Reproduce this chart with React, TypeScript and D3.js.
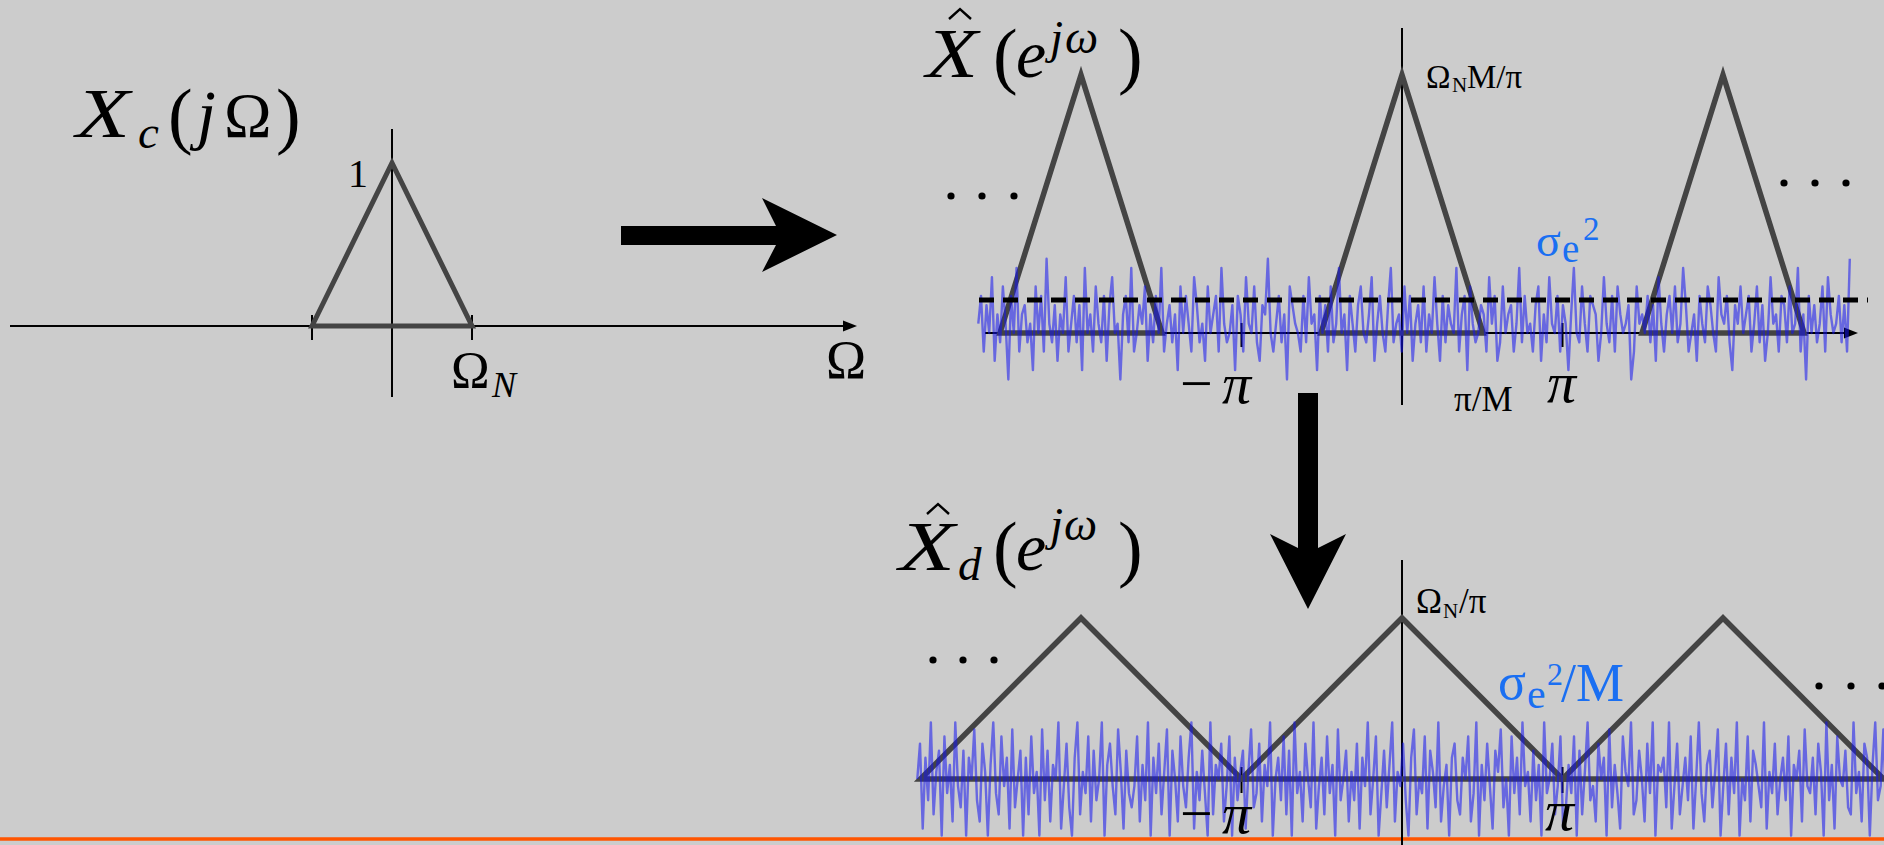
import React from 'react';
import * as d3 from 'd3';

const W = 1884;
const H = 845;

// Continuous-time spectrum X_c(jΩ): vertices as (Ω/Ω_N, magnitude)
const ctTriangle: [number, number][] = [[-1, 0], [0, 1], [1, 0]];
const ctTicks = [-1, 1];

// Discrete-time spectra: replica centres in units of π, half-widths in units of π
const topCenters = [-2, 0, 2];
const topHalfWidth = 0.505;
const bottomCenters = [-2, 0, 2];
const bottomHalfWidth = 1;
const piTicks = [-1, 1];

// Quantisation noise floor σe² (fraction of the top peak)
const noiseFloorTop = 0.128;

// Noise samples, one letter per sample: 'M' is zero, each letter step is one unit
const topNoiseCodes =
  'NQKPMSJOLRNHQMTKOPLNIRMQKUNLPJOMSKNQLPIT' +
  'MOKRNLQJPSMNHOQLTKMPNRJOLQMTKNPLOIRMQNKS' +
  'PLNJRMOQKTNLMPIQOKSNMRLJPOUMKNQLOHRPNMKQ' +
  'LSNOIQMPKRLNTMOIQNKPRMLOSJNQMKPTLNOKRMQJ' +
  'NPLRKOMSNJQLPNMTKOQIRNLMPOKSNQJLRMOPKNTL' +
  'QMNKPRJOLSNMQKPNIOTMLRNKQPOJMSNLQKROMNPH' +
  'KRNOMQLPJSNKOQMRLNTPKMOJQNLRPMKSONQLIPNR' +
  'MOQKNRLPJMSNOKQPLRMNTKOHQMPLNRKSOMNQLPKU';
const topNoiseUnit = 0.036;
const topNoiseSpan: [number, number] = [-2.64, 2.79];

const bottomNoiseCodes =
  'MRFPJUHNQESKOGULIQEPMTJGRNEOUKHSLPFTIMQE' +
  'PHSKNETJQGOMUFLRIEPUHNKSGQJMUEORLHTNFQKI' +
  'LSGOJUEPKRHNTEQMGSLIPUFNJQKEUHOMRGLSEPJN' +
  'QFNTIKRGOLUEMPJSHQEUKNGRMIUFLPHSKOETJMQG' +
  'NJRFPLUHMSEKQIOUGNLRJEPTHMKSFQNIUGLOEPRJ' +
  'HPMSGKUEOJRLFQNTIMESKPHULNGQJOEUKMRHLSFI' +
  'OKSEQHNUJLGRMPETIOKFSNLUHJQMGRKUEONPIUFL' +
  'RHLPJSFMUKGOQINTELRHPKUEMJSGQOLIUFNKRHMP' +
  'JSEOMQGTLKPHRNEUJOFSMLQIHUKNGRPEOUJLTHMQ';
const bottomNoiseUnit = 0.044;
const bottomNoiseSpan: [number, number] = [-3.02, 3.05];

const BG = '#cccccc';
const TRI = '#444444';
const BLUE_TEXT = '#1a6ff2';
const NOISE = '#1414f0';
const ORANGE = '#ff5500';
const SERIF = '"Liberation Serif", "Times New Roman", serif';

// Scales
const xL = d3.scaleLinear().domain([-1, 1]).range([312, 472]);
const yL = d3.scaleLinear().domain([0, 1]).range([326, 163]);
const xW = d3.scaleLinear().domain([0, 1]).range([1402, 1562.5]);
const yT = d3.scaleLinear().domain([0, 1]).range([333, 75]);
const yB = d3.scaleLinear().domain([0, 1]).range([779, 618]);

type P = [number, number];

function triangle(c: number, hw: number): P[] {
  return [[c - hw, 0], [c, 1], [c + hw, 0]];
}

function decodeNoise(codes: string, unit: number): number[] {
  return Array.from(codes).map(ch => (ch.charCodeAt(0) - 77) * unit);
}

function noisePoints(values: number[], span: [number, number]): P[] {
  const xi = d3.scaleLinear().domain([0, values.length - 1]).range(span);
  return values.map((v, i) => [xi(i), v] as P);
}

const T = (props: any) => <text fontFamily={SERIF} fill="#000" {...props} />;

function Hat({ cx, y }: { cx: number; y: number }) {
  return (
    <path
      d={`M${cx - 11},${y + 10} L${cx},${y} L${cx + 11},${y + 10}`}
      fill="none"
      stroke="#000"
      strokeWidth={2.4}
    />
  );
}

function Dots({ xs, y }: { xs: number[]; y: number }) {
  return (
    <g>
      {xs.map((x, i) => (
        <circle key={i} cx={x} cy={y} r={3.6} fill="#000" />
      ))}
    </g>
  );
}

function ArrowHead({ x, y }: { x: number; y: number }) {
  return <path d={`M${x},${y} L${x - 14},${y - 5.5} L${x - 14},${y + 5.5} Z`} fill="#000" />;
}

export default function App() {
  const lineL = d3.line<P>().x(d => xL(d[0])).y(d => yL(d[1]));
  const lineT = d3.line<P>().x(d => xW(d[0])).y(d => yT(d[1]));
  const lineB = d3.line<P>().x(d => xW(d[0])).y(d => yB(d[1]));

  const topNoise = decodeNoise(topNoiseCodes, topNoiseUnit);
  const bottomNoise = decodeNoise(bottomNoiseCodes, bottomNoiseUnit);
  const topNoisePath = lineT(noisePoints(topNoise, topNoiseSpan)) || '';
  const bottomNoisePath = lineB(noisePoints(bottomNoise, bottomNoiseSpan)) || '';

  return (
    <svg
      width={W}
      height={H}
      viewBox={`0 0 ${W} ${H}`}
      style={{ position: 'absolute', left: 0, top: 0, display: 'block' }}
    >
      <rect x={0} y={0} width={W} height={H} fill={BG} />

      {/* slide footer rule */}
      <line x1={0} x2={W} y1={839} y2={839} stroke={ORANGE} strokeWidth={3.5} />

      {/* ---------- X_c(jΩ) ---------- */}
      <line x1={10} x2={845} y1={yL(0)} y2={yL(0)} stroke="#000" strokeWidth={2.2} />
      <ArrowHead x={857} y={yL(0)} />
      <line x1={xL(0)} x2={xL(0)} y1={129} y2={397} stroke="#000" strokeWidth={2} />
      {ctTicks.map(t => (
        <line key={t} x1={xL(t)} x2={xL(t)} y1={315} y2={340} stroke="#000" strokeWidth={2} />
      ))}
      <path d={lineL(ctTriangle) + 'Z'} fill="none" stroke={TRI} strokeWidth={5} strokeLinejoin="miter" />

      <T x={76} y={137} fontSize={70} fontStyle="italic" textLength={54} lengthAdjust="spacingAndGlyphs">X</T>
      <T x={138} y={148} fontSize={47} fontStyle="italic">c</T>
      <T x={168} y={140} fontSize={74}>(</T>
      <T x={197} y={137} fontSize={68} fontStyle="italic">j</T>
      <T x={224} y={137} fontSize={64}>Ω</T>
      <T x={276} y={140} fontSize={74}>)</T>
      <T x={348} y={187} fontSize={40}>1</T>
      <T x={451} y={388} fontSize={52}>Ω</T>
      <T x={492} y={397} fontSize={36} fontStyle="italic">N</T>
      <T x={826} y={378} fontSize={54}>Ω</T>

      {/* ---------- transition arrows ---------- */}
      <path d="M621,226 L776,226 L762,198 L837,235 L762,272 L776,245 L621,245 Z" fill="#000" />
      <path d="M1298,393 L1318,393 L1318,548 L1346,534 L1308,609 L1270,534 L1298,548 Z" fill="#000" />

      {/* ---------- upsampled spectrum ---------- */}
      <line x1={985} x2={1846} y1={yT(0)} y2={yT(0)} stroke="#000" strokeWidth={2} />
      <ArrowHead x={1858} y={yT(0)} />
      <line x1={xW(0)} x2={xW(0)} y1={28} y2={405} stroke="#000" strokeWidth={2} />
      {piTicks.map(t => (
        <line key={t} x1={xW(t)} x2={xW(t)} y1={323} y2={347} stroke="#000" strokeWidth={2} />
      ))}
      {topCenters.map(c => (
        <path key={c} d={lineT(triangle(c, topHalfWidth)) + 'Z'} fill="none" stroke={TRI} strokeWidth={5.5} />
      ))}
      <path d={topNoisePath} fill="none" stroke={NOISE} strokeOpacity={0.55} strokeWidth={2.4} strokeLinejoin="round" />
      <line
        x1={979}
        x2={1868}
        y1={yT(noiseFloorTop)}
        y2={yT(noiseFloorTop)}
        stroke="#000"
        strokeWidth={5}
        strokeDasharray="15 9"
      />

      <Hat cx={960} y={9} />
      <T x={926} y={77} fontSize={70} fontStyle="italic" textLength={52} lengthAdjust="spacingAndGlyphs">X</T>
      <T x={993} y={80} fontSize={74}>(</T>
      <T x={1016} y={77} fontSize={68} fontStyle="italic">e</T>
      <T x={1050} y={53} fontSize={47} fontStyle="italic">j</T>
      <T x={1065} y={53} fontSize={47} fontStyle="italic">ω</T>
      <T x={1118} y={80} fontSize={74}>)</T>
      <Dots xs={[951, 982, 1014]} y={196} />
      <Dots xs={[1784, 1815, 1846]} y={183} />

      <T x={1426} y={88} fontSize={33}>Ω</T>
      <T x={1452} y={92} fontSize={21}>N</T>
      <T x={1467} y={88} fontSize={33}>M/π</T>
      <T x={1536} y={256} fontSize={46} fill={BLUE_TEXT}>σ</T>
      <T x={1562} y={262} fontSize={39} fill={BLUE_TEXT}>e</T>
      <T x={1583} y={240} fontSize={33} fill={BLUE_TEXT}>2</T>
      <T x={1180} y={403} fontSize={58}>−</T>
      <T x={1222} y={403} fontSize={58} fontStyle="italic">π</T>
      <T x={1454} y={411} fontSize={35}>π/M</T>
      <T x={1547} y={402} fontSize={58} fontStyle="italic">π</T>

      {/* ---------- decimated spectrum ---------- */}
      <line x1={925} x2={W} y1={yB(0)} y2={yB(0)} stroke="#000" strokeWidth={2} />
      <line x1={xW(0)} x2={xW(0)} y1={560} y2={H} stroke="#000" strokeWidth={2} />
      {piTicks.map(t => (
        <line key={t} x1={xW(t)} x2={xW(t)} y1={767} y2={793} stroke="#000" strokeWidth={2} />
      ))}
      {bottomCenters.map(c => (
        <path key={c} d={lineB(triangle(c, bottomHalfWidth)) + 'Z'} fill="none" stroke={TRI} strokeWidth={5.5} />
      ))}
      <path d={bottomNoisePath} fill="none" stroke={NOISE} strokeOpacity={0.55} strokeWidth={2.4} strokeLinejoin="round" />

      <Hat cx={938} y={504} />
      <T x={899} y={570} fontSize={70} fontStyle="italic" textLength={56} lengthAdjust="spacingAndGlyphs">X</T>
      <T x={958} y={580} fontSize={47} fontStyle="italic">d</T>
      <T x={993} y={573} fontSize={74}>(</T>
      <T x={1016} y={570} fontSize={68} fontStyle="italic">e</T>
      <T x={1050} y={540} fontSize={47} fontStyle="italic">j</T>
      <T x={1064} y={540} fontSize={47} fontStyle="italic">ω</T>
      <T x={1118} y={573} fontSize={74}>)</T>
      <Dots xs={[933, 963, 994]} y={660} />
      <Dots xs={[1819, 1851, 1882]} y={686} />

      <T x={1416} y={613} fontSize={35}>Ω</T>
      <T x={1443} y={618} fontSize={21}>N</T>
      <T x={1459} y={613} fontSize={35}>/π</T>
      <T x={1498} y={699} fontSize={52} fill={BLUE_TEXT}>σ</T>
      <T x={1527} y={708} fontSize={42} fill={BLUE_TEXT}>e</T>
      <T x={1547} y={685} fontSize={32} fill={BLUE_TEXT}>2</T>
      <T x={1561} y={701} fontSize={54} fill={BLUE_TEXT}>/M</T>
      <T x={1180} y={833} fontSize={58}>−</T>
      <T x={1222} y={833} fontSize={58} fontStyle="italic">π</T>
      <T x={1545} y={830} fontSize={58} fontStyle="italic">π</T>
    </svg>
  );
}
